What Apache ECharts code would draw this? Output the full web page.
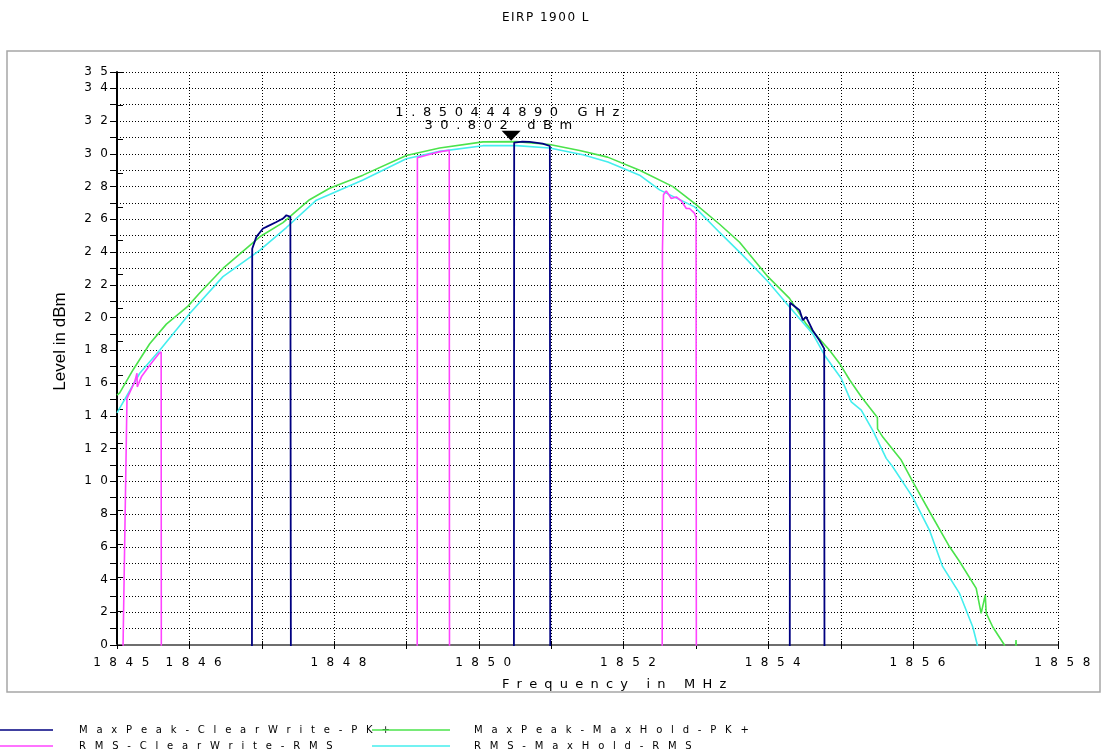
<!DOCTYPE html>
<html>
<head>
<meta charset="utf-8">
<script src="https://cdn.jsdelivr.net/npm/echarts@6/dist/echarts.min.js"></script>
<style>
  html, body { margin: 0; padding: 0; background: #fff; }
  #chart { width: 1102px; height: 756px; }
</style>
</head>
<body>
<div id="chart"></div>
<script>
// ---- texts ----
const chartTitle = 'EIRP 1900 L';
const xAxisTitle = 'Frequency in MHz';
const yAxisTitle = 'Level in dBm';
const xLabelled = [1845, 1846, 1848, 1850, 1852, 1854, 1856, 1858];
const yLabelled = [0, 2, 4, 6, 8, 10, 12, 14, 16, 18, 20, 22, 24, 26, 28, 30, 32, 34, 35];
const traceNames = ['MaxPeak-ClearWrite-PK+', 'RMS-ClearWrite-RMS', 'MaxPeak-MaxHold-PK+', 'RMS-MaxHold-RMS'];

// ---- marker ----
const markerFreqMHz = 1850.44489;
const markerLevel = 30.802;

// ---- traces: [frequency MHz, level dBm]; levels below 0 sit under the display floor ----
const pkClearWrite = [
  [1845.0, -30], [1846.860, -30], [1846.868, 24.2], [1846.925, 24.93], [1847.017, 25.44],
  [1847.064, 25.54], [1847.202, 25.84], [1847.293, 26.05], [1847.340, 26.25], [1847.395, 26.15],
  [1847.410, -30],
  [1850.480, -30], [1850.487, 30.69], [1850.60, 30.75], [1850.70, 30.73], [1850.88, 30.62],
  [1850.98, 30.48], [1850.990, -30],
  [1854.290, -30], [1854.298, 20.9], [1854.43, 20.45], [1854.475, 19.84], [1854.52, 20.04],
  [1854.61, 19.23], [1854.706, 18.6], [1854.77, 18.1], [1854.780, -30], [1858.0, -30]
];

const rmsClearWrite = [
  [1845.080, -1], [1845.138, 15.06], [1845.244, 16.07], [1845.276, 16.6], [1845.280, 15.77],
  [1845.304, 15.77], [1845.337, 16.38], [1845.452, 17.09], [1845.580, 17.81], [1845.610, 17.9],
  [1845.616, -30],
  [1849.145, -30], [1849.150, 29.77], [1849.30, 29.95], [1849.45, 30.12], [1849.590, 30.22],
  [1849.597, -30],
  [1852.528, -30], [1852.535, 24.0], [1852.550, 27.5], [1852.588, 27.74], [1852.657, 27.27],
  [1852.727, 27.37], [1852.795, 27.13], [1852.865, 26.66], [1852.910, 26.66], [1852.980, 26.36],
  [1853.000, 26.1], [1853.008, -30], [1858.0, -30]
];

const pkMaxHold = [
  [1845.000, 15.26], [1845.037, 15.4], [1845.221, 16.8], [1845.452, 18.4], [1845.682, 19.6],
  [1845.981, 20.7], [1846.142, 21.5], [1846.464, 23.0], [1846.985, 24.97], [1847.293, 25.8],
  [1847.660, 27.2], [1847.938, 27.9], [1848.398, 28.7], [1848.997, 29.9], [1849.457, 30.36],
  [1850.055, 30.73], [1850.520, 30.75], [1850.977, 30.57], [1851.391, 30.2], [1851.778, 29.8],
  [1852.220, 29.0], [1852.680, 28.0], [1852.979, 26.97], [1853.325, 25.7], [1853.601, 24.6],
  [1853.992, 22.5], [1854.291, 21.17], [1854.522, 19.6], [1854.844, 18.0], [1854.982, 17.2],
  [1855.120, 16.2], [1855.282, 15.16], [1855.505, 13.9], [1855.507, 13.2], [1855.580, 12.7],
  [1855.834, 11.3], [1855.995, 9.97], [1856.226, 8.14], [1856.502, 6.0], [1856.640, 5.1],
  [1856.870, 3.46], [1856.938, 1.93], [1856.995, 3.05], [1857.008, 1.95], [1857.099, 1.1],
  [1857.260, 0.0], [1857.270, -2], [1857.400, -2], [1857.420, 0.3], [1857.440, -2]
];

const rmsMaxHold = [
  [1845.000, 14.18], [1845.314, 16.6], [1845.590, 18.0], [1846.004, 20.25], [1846.464, 22.5],
  [1846.971, 24.1], [1847.340, 25.5], [1847.754, 27.17], [1848.398, 28.4], [1848.997, 29.7],
  [1849.457, 30.15], [1850.055, 30.5], [1850.517, 30.5], [1850.977, 30.36], [1851.436, 29.95],
  [1851.782, 29.5], [1852.220, 28.7], [1852.496, 27.8], [1852.979, 26.76], [1853.325, 25.2],
  [1853.646, 23.8], [1853.992, 22.2], [1854.291, 20.65], [1854.613, 19.0], [1854.775, 17.7],
  [1855.006, 16.28], [1855.144, 14.85], [1855.282, 14.35], [1855.442, 13.1], [1855.627, 11.4],
  [1855.714, 10.9], [1855.990, 9.05], [1856.226, 7.0], [1856.405, 4.8], [1856.640, 3.15],
  [1856.823, 1.1], [1856.886, 0.0], [1856.890, -1]
];

const traceColors = ['#000080', '#ff44ff', '#4be34b', '#44eeee'];

// letter-spaced rich text: every character becomes its own token
function spaced(text, key) {
  return text.split('').map(function (c) { return '{' + key + '|' + c + '}'; }).join('');
}

const FONT = 'DejaVu Sans';
const tickRich = { t: { fontFamily: FONT, fontSize: 12, color: '#000', padding: [0, 0, 0, 8.5] } };
const legendRich = { l: { fontFamily: FONT, fontSize: 10, color: '#000', padding: [0, 8.8, 0, 0] } };

const chart = echarts.init(document.getElementById('chart'), null, { renderer: 'canvas' });

function legendBlock(name, left, top, iconWidth, textPad) {
  return {
    data: [name], left: left, top: top, padding: 0, orient: 'horizontal',
    icon: 'rect', itemWidth: iconWidth, itemHeight: 1.6, selectedMode: false,
    formatter: function (n) { return spaced(n, 'l'); },
    textStyle: { padding: [0, 0, 0, textPad], rich: legendRich }
  };
}

const markerRich = {
  m: { fontFamily: FONT, fontSize: 13, color: '#000', padding: [0, 7.6, 0, 0], lineHeight: 12.5 },
  tail: { fontFamily: FONT, fontSize: 13, color: '#000', padding: [0, 18, 0, 0], lineHeight: 12.5 }
};

const option = {
  animation: false,
  backgroundColor: '#fff',
  title: {
    text: spaced(chartTitle, 'h'),
    left: 541, top: 7, textAlign: 'center',
    textStyle: {
      fontWeight: 'normal',
      rich: { h: { fontFamily: FONT, fontSize: 12, fontWeight: 'normal', color: '#000', padding: [0, 1.5, 0, 0] } }
    }
  },
  legend: [
    legendBlock(traceNames[0], 0, 725, 53, 21),
    legendBlock(traceNames[1], 0, 741, 53, 21),
    legendBlock(traceNames[2], 372, 725, 78, 19),
    legendBlock(traceNames[3], 372, 741, 78, 19)
  ],
  grid: { left: 117, right: 44, top: 72, bottom: 111, containLabel: false },
  xAxis: [{
    type: 'value', min: 1845, max: 1858, interval: 1,
    name: spaced(xAxisTitle, 'n'), nameLocation: 'middle', nameGap: 33,
    nameTextStyle: {
      padding: [0, 0, 0, 46],
      rich: { n: { fontFamily: FONT, fontSize: 13, color: '#000', padding: [0, 0, 0, 7.2] } }
    },
    axisLine: { show: true, onZero: false, lineStyle: { color: '#6e6e6e', width: 2 } },
    axisTick: { show: true, inside: false, length: 4, lineStyle: { color: '#000', width: 1 } },
    axisLabel: {
      margin: 12, showMinLabel: true, showMaxLabel: true,
      formatter: function (v) { return xLabelled.indexOf(v) >= 0 ? spaced(String(v), 't') : ''; },
      rich: tickRich
    },
    splitLine: { show: true, lineStyle: { color: '#000', width: 1, type: [1, 2] } }
  }, {
    type: 'value', min: 1845, max: 1858, interval: 1, position: 'bottom',
    axisLine: { show: false }, axisLabel: { show: false }, splitLine: { show: false },
    axisTick: { show: true, inside: true, length: 4, lineStyle: { color: '#000', width: 1 } }
  }],
  yAxis: [{
    type: 'value', min: 0, max: 35, interval: 1,
    name: yAxisTitle, nameLocation: 'middle', nameGap: 48, nameRotate: 90,
    nameTextStyle: { fontFamily: 'Liberation Sans', fontSize: 17, color: '#000', padding: [0, 0, 0, 34] },
    axisLine: { show: true, onZero: false, lineStyle: { color: '#000', width: 2 } },
    axisTick: { show: true, inside: false, length: 7, lineStyle: { color: '#000', width: 1 } },
    axisLabel: {
      margin: 9, showMinLabel: true, showMaxLabel: true,
      formatter: function (v) { return yLabelled.indexOf(v) >= 0 ? spaced(String(v), 't') : ''; },
      rich: tickRich
    },
    splitLine: { show: true, lineStyle: { color: '#000', width: 1, type: [1, 2] } }
  }, {
    type: 'value', min: 0, max: 34, interval: 2, position: 'left',
    axisLine: { show: false }, axisLabel: { show: false }, splitLine: { show: false },
    axisTick: { show: true, inside: true, length: 6, lineStyle: { color: '#000', width: 1 } }
  }],
  graphic: [{
    type: 'rect', silent: true, z: -1,
    shape: { x: 7, y: 51, width: 1093, height: 641 },
    style: { fill: 'none', stroke: '#a6a6a6', lineWidth: 1.5 }
  }],
  series: [
    {
      name: traceNames[2], type: 'line', data: pkMaxHold, showSymbol: false, clip: true, z: 2,
      lineStyle: { color: traceColors[2], width: 1.6 }, itemStyle: { color: traceColors[2] }
    },
    {
      name: traceNames[3], type: 'line', data: rmsMaxHold, showSymbol: false, clip: true, z: 2,
      lineStyle: { color: traceColors[3], width: 1.6 }, itemStyle: { color: traceColors[3] }
    },
    {
      name: traceNames[1], type: 'line', data: rmsClearWrite, showSymbol: false, clip: true, z: 3,
      lineStyle: { color: traceColors[1], width: 1.6 }, itemStyle: { color: traceColors[1] }
    },
    {
      name: traceNames[0], type: 'line', data: pkClearWrite, showSymbol: false, clip: true, z: 4,
      lineStyle: { color: traceColors[0], width: 1.8 }, itemStyle: { color: traceColors[0] },
      markPoint: {
        symbol: 'triangle', symbolSize: [19, 10], symbolRotate: 180, symbolOffset: [0, -5],
        itemStyle: { color: '#000' },
        label: {
          show: true, position: 'top', distance: -1,
          formatter: function () {
            const ghz = (markerFreqMHz / 1000).toFixed(9) + ' GHz';
            const lvl = markerLevel.toFixed(3) + ' dBm';
            return spaced(ghz, 'm') + '\n' + spaced(lvl, 'm') + '{tail|}';
          },
          rich: markerRich
        },
        data: [{ coord: [markerFreqMHz, markerLevel] }]
      }
    }
  ]
};

chart.setOption(option);
</script>
</body>
</html>
